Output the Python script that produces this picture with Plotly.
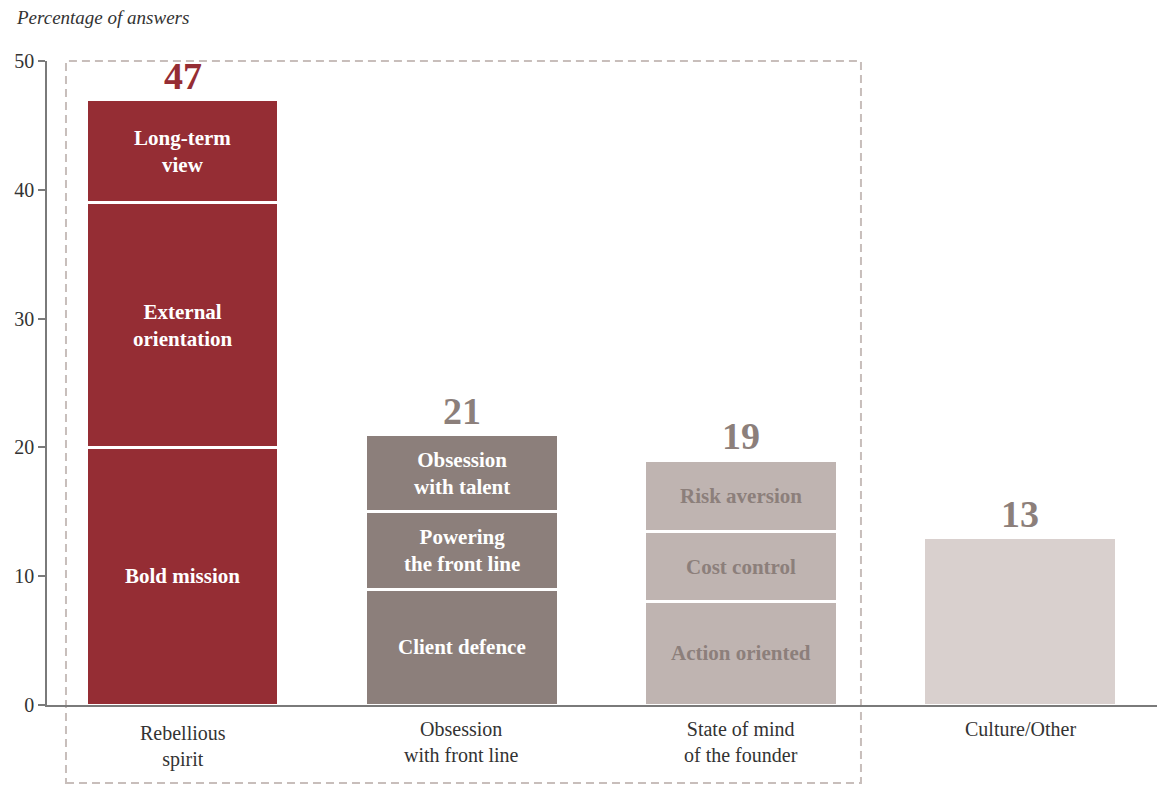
import plotly.graph_objects as go

# Categories along the x axis and the total share of answers per category
categories = ["Rebellious<br>spirit", "Obsession<br>with front line",
              "State of mind<br>of the founder", "Culture/Other"]
totals = [47, 21, 19, 13]

# Stacked components (bottom, middle, top) for each category
seg_bottom = [20, 9, 8, 13]
seg_middle = [19, 6, 5.5, None]
seg_top = [8, 6, 5.5, None]

lbl_bottom = ["Bold mission", "Client defence", "Action oriented", ""]
lbl_middle = ["External<br>orientation", "Powering<br>the front line", "Cost control", ""]
lbl_top = ["Long-term<br>view", "Obsession<br>with talent", "Risk aversion", ""]

y_ticks = [0, 10, 20, 30, 40, 50]

bar_colors = ["#952d34", "#8c7f7b", "#bfb4b1", "#d9d0ce"]
label_colors = ["#ffffff", "#ffffff", "#8c7f7b", "#8c7f7b"]
total_colors = ["#952d34", "#8c7f7b", "#8c7f7b", "#8c7f7b"]

FONT = "Liberation Serif"
xs = list(range(len(categories)))

fig = go.Figure()
for vals in (seg_bottom, seg_middle, seg_top):
    fig.add_trace(go.Bar(
        x=xs, y=vals, width=0.69,
        marker=dict(color=bar_colors, line=dict(color="white", width=3)),
        hoverinfo="skip", showlegend=False,
    ))

annotations = []
# Segment labels centred in each stacked block
for i in xs:
    base = 0
    for vals, lbls in ((seg_bottom, lbl_bottom), (seg_middle, lbl_middle), (seg_top, lbl_top)):
        v = vals[i]
        if v is None:
            continue
        if lbls[i]:
            annotations.append(dict(
                x=i, y=base + v / 2, xref="x", yref="y", text=f"<b>{lbls[i]}</b>",
                showarrow=False, font=dict(family=FONT, size=21, color=label_colors[i]),
                xanchor="center", yanchor="middle",
            ))
        base += v

# Totals above the bars
for i in xs:
    annotations.append(dict(
        x=i, y=totals[i], xref="x", yref="y", text=f"<b>{totals[i]}</b>",
        showarrow=False, font=dict(family=FONT, size=38, color=total_colors[i]),
        xanchor="center", yanchor="bottom", yshift=1,
    ))

# Category names below the axis
for i in xs:
    annotations.append(dict(
        x=i, y=0, xref="x", yref="y", text=categories[i],
        showarrow=False, font=dict(family=FONT, size=20, color="#333333"),
        xanchor="center", yanchor="top", yshift=-15 if i == 0 else -11,
        align="center",
    ))

# Axis title in the top-left corner
annotations.append(dict(
    x=-0.0297, y=1.0683, xref="paper", yref="paper", text="<i>Percentage of answers</i>",
    showarrow=False, font=dict(family=FONT, size=19, color="#333333"),
    xanchor="left", yanchor="middle",
))

fig.update_layout(
    barmode="stack",
    width=1157, height=785,
    margin=dict(l=47, r=0, t=61, b=80),
    paper_bgcolor="white", plot_bgcolor="white",
    font=dict(family=FONT, size=20, color="#333333"),
    annotations=annotations,
    shapes=[dict(
        type="rect", xref="paper", yref="paper",
        x0=0.0171, x1=0.7333, y0=-0.1211, y1=1.0,
        line=dict(color="#c8bebb", width=2, dash="8px,5px"),
        fillcolor="rgba(0,0,0,0)", layer="below",
    )],
    xaxis=dict(
        range=[-0.486, 3.49], showticklabels=False, showgrid=False, zeroline=False,
        showline=True, linecolor="#7a7a7a", linewidth=1.5, ticks="",
    ),
    yaxis=dict(
        range=[0, 50], tickvals=y_ticks, showgrid=False, zeroline=False,
        showline=True, linecolor="#7a7a7a", linewidth=1.5,
        ticks="outside", ticklen=7, tickcolor="#7a7a7a", tickwidth=1.5,
        tickfont=dict(family=FONT, size=20, color="#333333"),
    ),
)

fig.write_html("out.html")
